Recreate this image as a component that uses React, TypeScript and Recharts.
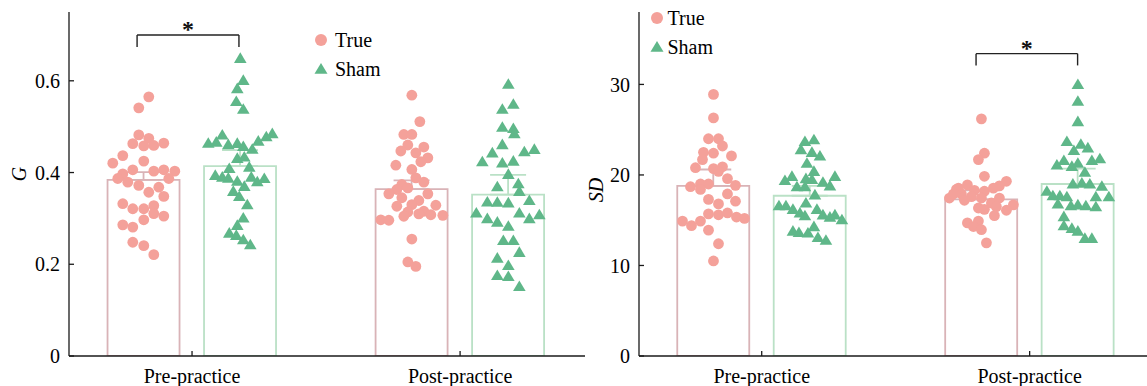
import React from 'react';
import {
  ComposedChart,
  Bar,
  ErrorBar,
  Scatter,
  XAxis,
  YAxis,
  ReferenceLine,
} from 'recharts';

// ---------- data ----------
const categories = ['Pre-practice', 'Post-practice'];
const categoryPos = [1, 2];
const groupNames = ['True', 'Sham'];
const groupOffset = 0.18; // True left of category, Sham right
const SWARM_PX = 268; // swarm offsets are stored in pixels of the original figure

// G panel: bar means and upper error
const gTrueMean = [0.384, 0.364];
const gTrueErr = [0.017, 0.019];
const gShamMean = [0.414, 0.352];
const gShamErr = [0.035, 0.043];

// SD panel: bar means and upper error
const sdTrueMean = [18.8, 17.3];
const sdTrueErr = [1.8, 1.0];
const sdShamMean = [17.7, 19.0];
const sdShamErr = [1.1, 1.7];

// individual subjects: [swarm offset, value]
const gTruePre: [number, number][] = [
  [5, 0.565], [-5, 0.541], [-5, 0.482], [5, 0.4745], [-11, 0.463], [0, 0.458], [10, 0.459],
  [20, 0.464], [-21, 0.437], [-31, 0.4205], [0, 0.425], [-11, 0.406], [-21, 0.397], [10, 0.403],
  [20, 0.406], [31, 0.403], [-26, 0.387], [-16, 0.379], [-5, 0.372], [25, 0.387], [15, 0.368],
  [5, 0.357], [20, 0.348], [-21, 0.332], [-11, 0.321], [0, 0.321], [10, 0.328], [10, 0.3105],
  [20, 0.305], [0, 0.297], [-21, 0.286], [-11, 0.281], [-11, 0.248], [0, 0.2405], [10, 0.221],
];
const gShamPre: [number, number][] = [
  [0, 0.649], [3, 0.601], [-3, 0.583], [-4, 0.555], [3, 0.538], [-18, 0.482], [26, 0.478],
  [32, 0.485], [-32, 0.464], [-24, 0.4665], [-12, 0.461], [-3, 0.4636], [3, 0.457], [18, 0.4686],
  [12, 0.451], [-3, 0.431], [4, 0.434], [9, 0.412], [-11, 0.409], [-25, 0.394], [-18, 0.39],
  [-12, 0.388], [-3, 0.381], [11, 0.39], [17, 0.38], [24, 0.387], [4, 0.37], [-7, 0.359],
  [-1, 0.348], [7, 0.33], [3, 0.301], [-3, 0.285], [-11, 0.268], [-4, 0.263], [3, 0.2537],
  [10, 0.2427],
];
const gTruePost: [number, number][] = [
  [0, 0.5686], [8, 0.511], [-8, 0.483], [0, 0.483], [-4, 0.46], [12, 0.4556], [-11, 0.447],
  [4, 0.443], [16, 0.432], [9, 0.4235], [-16, 0.416], [0, 0.4067], [4, 0.3885], [12, 0.379],
  [-10, 0.374], [-4, 0.3667], [-15, 0.363], [-23, 0.3535], [16, 0.3535], [-10, 0.345], [7, 0.339],
  [-15, 0.3265], [0, 0.33], [24, 0.3287], [12, 0.3156], [-4, 0.314], [7, 0.31], [19, 0.308],
  [-8, 0.3047], [31, 0.3067], [-31, 0.297], [-23, 0.296], [0, 0.255], [-4, 0.205], [4, 0.1953],
];
const gShamPost: [number, number][] = [
  [0, 0.5926], [5, 0.549], [-6, 0.538], [-6, 0.499], [5, 0.496], [6, 0.485], [-6, 0.461],
  [26, 0.4505], [16, 0.4454], [-16, 0.443], [-26, 0.4235], [-6, 0.421], [5, 0.425], [0, 0.396],
  [-11, 0.369], [10, 0.3755], [11, 0.359], [-21, 0.336], [-11, 0.3353], [0, 0.334], [21, 0.339],
  [-32, 0.312], [-21, 0.2996], [-11, 0.292], [0, 0.283], [11, 0.312], [21, 0.2996], [31, 0.308],
  [-5, 0.252], [5, 0.252], [11, 0.226], [-11, 0.2136], [0, 0.1975], [-11, 0.1756], [0, 0.1734],
  [11, 0.1515],
];
const sdTruePre: [number, number][] = [
  [0, 28.9], [0, 26.3], [-5, 24.0], [5, 24.0], [9, 23.2], [-10, 22.5], [0, 22.4], [18, 22.1],
  [-11, 21.7], [-18, 20.8], [0, 20.7], [9, 20.9], [5, 20.4], [14, 19.6], [22, 18.85], [-23, 18.7],
  [-13, 19.0], [-5, 19.0], [-13, 18.4], [14, 17.9], [-5, 17.3], [5, 16.8], [22, 17.1], [-5, 15.7],
  [5, 15.6], [14, 15.8], [23, 15.35], [31, 15.2], [-31, 14.9], [-22, 14.4], [-13, 14.9],
  [-5, 13.9], [5, 12.4], [0, 10.5],
];
const sdShamPre: [number, number][] = [
  [-5, 23.7], [4, 23.9], [-9, 22.8], [2, 22.5], [10, 22.1], [-3, 21.3], [4, 20.4], [-18, 19.85],
  [-25, 19.4], [25, 19.85], [-4, 19.6], [2, 19.5], [13, 19.2], [-13, 18.7], [-5, 18.7], [20, 18.8],
  [5, 17.8], [-4, 16.9], [-31, 16.6], [-24, 16.6], [-17, 16.2], [-10, 15.8], [-5, 15.5], [7, 16.2],
  [13, 15.6], [20, 15.35], [25, 15.6], [32, 15.05], [4, 14.3], [-17, 13.8], [-11, 13.65],
  [-2, 13.6], [8, 13.1], [16, 12.8],
];
const sdTruePost: [number, number][] = [
  [0, 26.2], [3, 22.4], [-3, 21.7], [3, 19.85], [25, 19.3], [-14, 18.9], [18, 18.8], [-25, 18.4],
  [-20, 17.9], [-7, 18.3], [3, 18.2], [12, 18.55], [-32, 17.45], [-10, 17.6], [0, 17.45],
  [18, 17.45], [-17, 17.2], [10, 16.9], [32, 16.7], [-3, 16.35], [3, 16.2], [15, 16.5], [25, 16.1],
  [13, 15.5], [-14, 14.7], [-3, 14.9], [-8, 14.3], [0, 13.95], [5, 12.5], [-23, 18.55], [-28, 17.9],
];
const sdShamPost: [number, number][] = [
  [0, 30.0], [0, 28.15], [0, 25.9], [-11, 23.7], [3, 23.4], [10, 23.0], [-4, 22.7], [-14, 21.6],
  [14, 21.6], [22, 21.8], [-21, 21.1], [-6, 20.95], [0, 21.3], [7, 20.3], [-5, 19.0], [4, 19.1],
  [12, 19.0], [24, 18.75], [-31, 18.2], [-25, 17.7], [-18, 17.7], [-11, 17.6], [18, 17.6],
  [31, 17.6], [-20, 16.8], [-7, 16.6], [0, 16.7], [8, 16.6], [18, 16.5], [-14, 15.4], [-14, 14.4],
  [-6, 14.1], [0, 13.8], [7, 13.0], [14, 13.0],
];

// y ticks
const gTicks = [0, 0.2, 0.4, 0.6];
const sdTicks = [0, 10, 20, 30];

// significance brackets: [x left, x right, leg bottom, bar top]
const gBracket = [0.795, 1.175, 0.6735, 0.7];
const sdBracket = [1.8, 2.179, 32.1, 33.4];

// ---------- styling ----------
const TRUE_COLOR = '#F4A19A';
const SHAM_COLOR = '#5FB789';
const TRUE_BAR = '#D9B3B7';
const SHAM_BAR = '#BAE1C6';
const AXIS = '#1a1a1a';
const FONT = 'Liberation Serif';

const CircleDot = (p: any) =>
  p.cx == null ? null : <circle cx={p.cx} cy={p.cy} r={5.4} fill={TRUE_COLOR} />;
const TriDot = (p: any) =>
  p.cx == null ? null : (
    <polygon
      points={`${p.cx},${p.cy - 6} ${p.cx + 6.3},${p.cy + 4.6} ${p.cx - 6.3},${p.cy + 4.6}`}
      fill={SHAM_COLOR}
    />
  );
const Star = (p: any) =>
  p.cx == null ? null : (
    <text
      x={p.cx}
      y={p.cy + 2}
      textAnchor="middle"
      fontSize={24}
      fontWeight="bold"
      fontFamily={FONT}
      fill="#111"
    >
      *
    </text>
  );

const XTick = (p: any) => (
  <text
    x={p.x}
    y={p.y}
    dy="0.71em"
    textAnchor="middle"
    fontSize={20}
    fontFamily={FONT}
    fill="#000"
  >
    {categories[categoryPos.indexOf(p.payload.value)] ?? ''}
  </text>
);
const YTick = (p: any) => (
  <text
    x={p.x}
    y={p.y}
    dy="0.355em"
    textAnchor="end"
    fontSize={20}
    fontFamily={FONT}
    fill="#000"
  >
    {String(p.payload.value)}
  </text>
);

function swarm(pre: [number, number][], post: [number, number][], side: number) {
  const out: { x: number; y: number }[] = [];
  [pre, post].forEach((pts, ci) => {
    pts.forEach(([dx, v]) => {
      out.push({ x: categoryPos[ci] + side * groupOffset + dx / SWARM_PX, y: v });
    });
  });
  return out;
}

function bars(tm: number[], te: number[], sm: number[], se: number[]) {
  const rows: any[] = [];
  categoryPos.forEach((pos, i) => {
    rows.push({ x: pos - groupOffset, tMean: tm[i], tErr: [0, te[i]] });
    rows.push({ x: pos + groupOffset, sMean: sm[i], sErr: [0, se[i]] });
  });
  return rows;
}

type PanelProps = {
  width: number;
  xDomain: [number, number];
  yDomain: [number, number];
  yTicks: number[];
  barRows: any[];
  truePts: any[];
  shamPts: any[];
  bracket: number[];
};

function Panel({ width, xDomain, yDomain, yTicks, barRows, truePts, shamPts, bracket }: PanelProps) {
  const [bx1, bx2, byLow, byTop] = bracket;
  const hiddenX = (id: string) => (
    <XAxis
      xAxisId={id}
      type="number"
      dataKey="x"
      domain={xDomain}
      allowDataOverflow
      hide
    />
  );
  return (
    <ComposedChart
      width={width}
      height={386}
      data={barRows}
      margin={{ top: 12, right: 0, bottom: 0, left: 0 }}
    >
      <XAxis
        xAxisId="main"
        type="number"
        dataKey="x"
        domain={xDomain}
        allowDataOverflow
        ticks={categoryPos}
        interval={0}
        height={30}
        tickSize={-5}
        tickMargin={18}
        stroke={AXIS}
        strokeWidth={1.3}
        tick={XTick}
      />
      {hiddenX('sham')}
      {hiddenX('pts')}
      <YAxis
        type="number"
        domain={yDomain}
        allowDataOverflow
        ticks={yTicks}
        interval={0}
        width={69}
        tickSize={-5}
        tickMargin={14}
        stroke={AXIS}
        strokeWidth={1.3}
        tick={YTick}
      />
      <Bar
        xAxisId="main"
        dataKey="tMean"
        barSize={72}
        fill="none"
        stroke={TRUE_BAR}
        strokeWidth={1.8}
        isAnimationActive={false}
      >
        <ErrorBar dataKey="tErr" width={18} strokeWidth={1.8} stroke={TRUE_BAR} direction="y" />
      </Bar>
      <Bar
        xAxisId="sham"
        dataKey="sMean"
        barSize={72}
        fill="none"
        stroke={SHAM_BAR}
        strokeWidth={1.8}
        isAnimationActive={false}
      >
        <ErrorBar dataKey="sErr" width={18} strokeWidth={1.8} stroke={SHAM_BAR} direction="y" />
      </Bar>
      <Scatter xAxisId="pts" data={truePts} dataKey="y" shape={CircleDot} isAnimationActive={false} />
      <Scatter xAxisId="pts" data={shamPts} dataKey="y" shape={TriDot} isAnimationActive={false} />
      <ReferenceLine
        xAxisId="pts"
        segment={[{ x: bx1, y: byTop }, { x: bx2, y: byTop }]}
        stroke="#222"
        strokeWidth={1.4}
        ifOverflow="visible"
      />
      <ReferenceLine
        xAxisId="pts"
        segment={[{ x: bx1, y: byTop }, { x: bx1, y: byLow }]}
        stroke="#222"
        strokeWidth={1.4}
        ifOverflow="visible"
      />
      <ReferenceLine
        xAxisId="pts"
        segment={[{ x: bx2, y: byTop }, { x: bx2, y: byLow }]}
        stroke="#222"
        strokeWidth={1.4}
        ifOverflow="visible"
      />
      <Scatter
        xAxisId="pts"
        data={[{ x: (bx1 + bx2) / 2, y: byTop }]}
        dataKey="y"
        shape={Star}
        isAnimationActive={false}
      />
    </ComposedChart>
  );
}

function LegendBlock({ left, top, gap }: { left: number; top: number; gap: number }) {
  return (
    <svg
      width={120}
      height={60}
      style={{ position: 'absolute', left, top, overflow: 'visible' }}
    >
      <circle cx={0} cy={0} r={6} fill={TRUE_COLOR} />
      <text x={gap} y={0} dominantBaseline="central" fontSize={20} fontFamily={FONT} fill="#000">
        {groupNames[0]}
      </text>
      <polygon points={`0,${29 - 6} 6.5,${29 + 4.8} -6.5,${29 + 4.8}`} fill={SHAM_COLOR} />
      <text x={gap} y={29} dominantBaseline="central" fontSize={20} fontFamily={FONT} fill="#000">
        {groupNames[1]}
      </text>
    </svg>
  );
}

export default function App() {
  const gBars = bars(gTrueMean, gTrueErr, gShamMean, gShamErr);
  const sdBars = bars(sdTrueMean, sdTrueErr, sdShamMean, sdShamErr);
  return (
    <div
      style={{
        position: 'absolute',
        left: 0,
        top: 0,
        width: 1147,
        height: 386,
        overflow: 'hidden',
        background: '#fff',
        fontFamily: FONT,
      }}
    >
      <div style={{ position: 'absolute', left: 0, top: 0 }}>
        <Panel
          width={585}
          xDomain={[0.541, 2.466]}
          yDomain={[0, 0.75]}
          yTicks={gTicks}
          barRows={gBars}
          truePts={swarm(gTruePre, gTruePost, -1)}
          shamPts={swarm(gShamPre, gShamPost, 1)}
          bracket={gBracket}
        />
      </div>
      <div style={{ position: 'absolute', left: 570, top: 0 }}>
        <Panel
          width={577}
          xDomain={[0.542, 2.438]}
          yDomain={[0, 38]}
          yTicks={sdTicks}
          barRows={sdBars}
          truePts={swarm(sdTruePre, sdTruePost, -1)}
          shamPts={swarm(sdShamPre, sdShamPost, 1)}
          bracket={sdBracket}
        />
      </div>
      <LegendBlock left={320.7} top={40} gap={14} />
      <LegendBlock left={656.7} top={18} gap={10.5} />
      <svg width={1147} height={386} style={{ position: 'absolute', left: 0, top: 0, pointerEvents: 'none' }}>
        <text
          x={18.5}
          y={174}
          transform="rotate(-90 18.5 174)"
          textAnchor="middle"
          dominantBaseline="central"
          fontSize={20}
          fontStyle="italic"
          fontFamily={FONT}
        >
          G
        </text>
        <text
          x={595.5}
          y={190}
          transform="rotate(-90 595.5 190)"
          textAnchor="middle"
          dominantBaseline="central"
          fontSize={20}
          fontStyle="italic"
          fontFamily={FONT}
        >
          SD
        </text>
      </svg>
    </div>
  );
}
